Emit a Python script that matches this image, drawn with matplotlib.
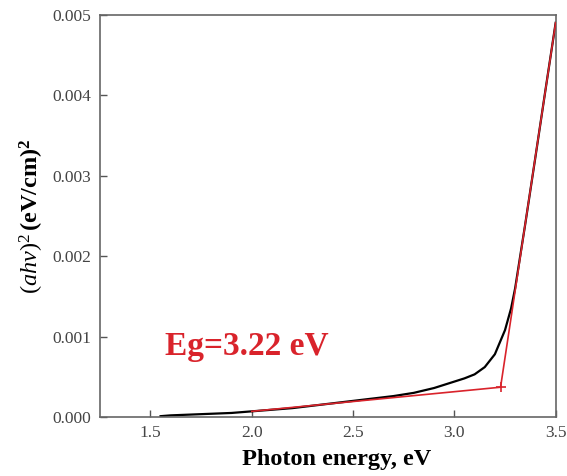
import matplotlib
matplotlib.use("Agg")
import matplotlib.pyplot as plt

# Data
energy = [1.55, 1.6, 1.7, 1.8, 1.9, 2.0, 2.1, 2.2, 2.3, 2.4, 2.5, 2.6, 2.7, 2.8, 2.9,
          3.0, 3.05, 3.1, 3.15, 3.2, 3.25, 3.28, 3.3, 3.35, 3.4, 3.45, 3.5]
absorb = [0.00001, 0.00002, 0.00003, 0.00004, 0.00005, 0.00007, 0.00009, 0.00011,
          0.00014, 0.00017, 0.0002, 0.00023, 0.00026, 0.0003, 0.00036,
          0.00044, 0.00048, 0.00053, 0.00062, 0.00078, 0.00108, 0.00135, 0.0016,
          0.0024, 0.00323, 0.00407, 0.0049]
fit_x = [2.0, 3.228, 3.5]
fit_y = [0.00007, 0.00037, 0.0049]
corner_x = [3.228]
corner_y = [0.00037]
xticks = [1.5, 2.0, 2.5, 3.0, 3.5]
yticks = [0.000, 0.001, 0.002, 0.003, 0.004, 0.005]

plt.rcParams['font.family'] = ['Liberation Serif', 'DejaVu Serif']
plt.rcParams['mathtext.fontset'] = 'custom'
plt.rcParams['mathtext.rm'] = 'Liberation Serif'
plt.rcParams['mathtext.it'] = 'Liberation Serif:italic'
plt.rcParams['mathtext.bf'] = 'Liberation Serif:bold'

fig = plt.figure(figsize=(5.67, 4.76), dpi=100)
ax = fig.add_axes([0.176, 0.124, 0.804, 0.845])

ax.plot(energy, absorb, color='black', lw=1.6, zorder=2)
ax.plot(fit_x, fit_y, color='#d9232b', lw=1.2, zorder=3)
ax.plot(corner_x, corner_y, marker='+', color='#d9232b', ms=7, mew=1.2, ls='none', zorder=4)

ax.set_xlim(1.25, 3.5)
ax.set_ylim(0, 0.005)
ax.set_xticks(xticks)
ax.set_xticklabels([f"{t:.1f}" for t in xticks])
ax.set_yticks(yticks)
ax.set_yticklabels([f"{t:.3f}" for t in yticks])
ax.tick_params(direction='in', length=5, width=1, colors='#555555', labelsize=12.5,
               labelcolor='#444444', top=False, right=False, pad=6)
for s in ax.spines.values():
    s.set_color('#666666')
    s.set_linewidth(1.2)

ax.set_xlabel('Photon energy, eV', fontsize=17.5, fontweight='bold', labelpad=5)
ax.xaxis.set_label_coords(0.52, -0.08)
ax.set_ylabel(r'$(\mathit{ahv})^{2}\,\mathbf{(eV/cm)^{2}}$', fontsize=17.5, labelpad=5)

ax.text(1.57, 0.00077, 'Eg=3.22 eV', color='#d9232b', fontsize=24, fontweight='bold',
        ha='left', va='baseline')

fig.savefig('out.png', dpi=100)
